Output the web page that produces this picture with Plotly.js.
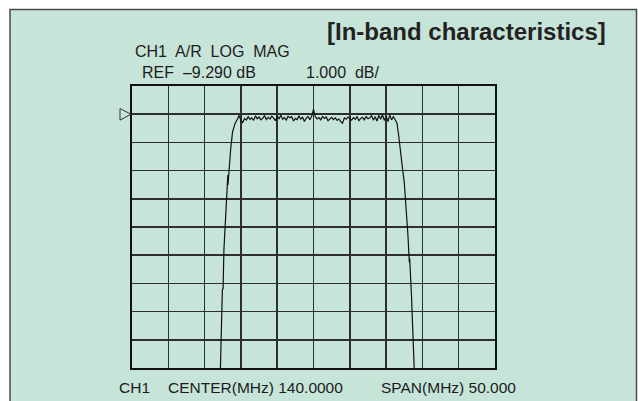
<!DOCTYPE html>
<html>
<head>
<meta charset="utf-8">
<script src="https://cdn.plot.ly/plotly-3.0.1.min.js"></script>
<style>
html,body{margin:0;padding:0;background:#fff;}
#chart{width:638px;height:401px;}
</style>
</head>
<body>
<div id="chart"></div>
<script>
// Frequency (MHz) of trace points
var freqMHz = [
  126.90, 127.15, 127.45, 127.55, 127.66, 127.98, 128.20, 128.22, 128.30, 128.50,
  128.60, 128.85, 129.00, 129.22, 129.50, 129.75,
  130.00, 130.25, 130.50, 130.75, 131.00, 131.25, 131.50, 131.75, 132.00, 132.25,
  132.50, 132.75, 133.00, 133.25, 133.50, 133.75, 134.00, 134.25, 134.50, 134.75,
  135.00, 135.25, 135.50, 135.75, 136.00, 136.25, 136.50, 136.75, 137.00, 137.25,
  137.50, 137.75, 138.00, 138.25, 138.50, 138.75, 139.00, 139.25, 139.50, 139.75,
  140.00, 140.25, 140.50, 140.75, 141.00, 141.25, 141.50, 141.75, 142.00, 142.25,
  142.50, 142.75, 143.00, 143.25, 143.50, 143.75, 144.00, 144.25, 144.50, 144.75,
  145.00, 145.25, 145.50, 145.75, 146.00, 146.25, 146.50, 146.75, 147.00, 147.25,
  147.50, 147.75, 148.00, 148.25, 148.50, 148.75, 149.00, 149.25, 149.50, 149.75,
  150.00, 150.25, 150.50, 150.75, 151.00, 151.25,
  151.50, 151.75, 152.00, 152.25, 152.50, 152.75, 153.00, 153.20, 153.25, 153.50,
  153.75, 153.80, 153.90, 154.00
];
// Magnitude (dB) of trace points
var magDB = [
  -19.00, -18.60, -15.50, -15.48, -14.10, -12.30, -11.45, -11.80, -11.50, -10.80,
  -10.50, -9.92, -9.80, -9.60, -9.48, -9.33,
  -9.52, -9.58, -9.44, -9.50, -9.38, -9.47, -9.42, -9.51, -9.35, -9.45,
  -9.39, -9.49, -9.44, -9.34, -9.48, -9.40, -9.46, -9.36, -9.43, -9.52,
  -9.37, -9.45, -9.33, -9.47, -9.41, -9.50, -9.36, -9.42, -9.38, -9.53,
  -9.44, -9.48, -9.35, -9.46, -9.40, -9.55, -9.43, -9.37, -9.49, -9.36,
  -9.12, -9.38, -9.46, -9.41, -9.49, -9.37, -9.44, -9.39, -9.52, -9.45,
  -9.40, -9.48, -9.42, -9.51, -9.46, -9.55, -9.61, -9.42, -9.47, -9.39,
  -9.44, -9.50, -9.41, -9.47, -9.38, -9.52, -9.44, -9.40, -9.49, -9.37,
  -9.45, -9.42, -9.34, -9.50, -9.38, -9.53, -9.33, -9.47, -9.31, -9.51,
  -9.36, -9.55, -9.32, -9.49, -9.38, -9.52,
  -9.60, -10.08, -10.55, -11.20, -11.70, -12.55, -13.55, -14.55, -14.40, -15.75,
  -17.30, -17.10, -18.30, -19.20
];
var centerMHz = 140.0, spanMHz = 50.0;
var refDB = -9.29, scaleDB = 1.0;

var xr = [centerMHz - spanMHz/2, centerMHz + spanMHz/2];
var yr = [refDB - 9*scaleDB, refDB + 1*scaleDB];

// pixel helpers for the frame (plot area 132..495 x, 86..368 y)
var L = 132, R = 495, T = 86, B = 368;
function px(x){ return (x - L)/(R - L); }
function py(y){ return (B - y)/(B - T); }

var txtColor = '#1c1c1c';
var fontHead = {family: 'Liberation Sans, Arial, sans-serif', size: 16, color: txtColor};
var fontFoot = {family: 'Liberation Sans, Arial, sans-serif', size: 15.5, color: txtColor};

var data = [{
  x: freqMHz, y: magDB, type: 'scatter', mode: 'lines',
  line: {color: '#111', width: 1.2}, hoverinfo: 'skip', cliponaxis: true
}];

var layout = {
  width: 638, height: 401,
  margin: {l: L, r: 638 - R, t: T, b: 401 - B, pad: 0},
  paper_bgcolor: '#ffffff',
  plot_bgcolor: 'rgba(0,0,0,0)',
  showlegend: false,
  xaxis: {range: xr, dtick: spanMHz/10, tick0: xr[0], showticklabels: false, ticks: '',
          showgrid: true, gridcolor: '#2e2e2e', gridwidth: 1.5, zeroline: false,
          showline: true, mirror: true, linecolor: '#111', linewidth: 2, fixedrange: true},
  yaxis: {range: yr, dtick: scaleDB, tick0: refDB, showticklabels: false, ticks: '',
          showgrid: true, gridcolor: '#2e2e2e', gridwidth: 1.5, zeroline: false,
          showline: true, mirror: true, linecolor: '#111', linewidth: 2, fixedrange: true},
  shapes: [
    {type: 'rect', xref: 'paper', yref: 'paper', layer: 'below',
     x0: px(10), x1: px(636.5), y0: py(9.5), y1: py(410),
     fillcolor: '#c7e4d9', line: {color: '#4a4a4a', width: 1.5}},
    {type: 'path', xref: 'paper', yref: 'y', layer: 'above',
     path: 'M ' + px(120) + ',' + (refDB + 0.2) + ' L ' + px(131) + ',' + refDB +
           ' L ' + px(120) + ',' + (refDB - 0.21) + ' Z',
     line: {color: '#333', width: 1}, fillcolor: 'rgba(0,0,0,0)'}
  ],
  annotations: [
    {xref: 'paper', yref: 'paper', x: px(608), y: py(31), xanchor: 'right', yanchor: 'middle',
     text: '<b>[In-band characteristics]</b>', showarrow: false,
     font: {family: 'Liberation Sans, Arial, sans-serif', size: 24, color: '#222'}},
    {xref: 'paper', yref: 'paper', x: px(133), y: py(52), xanchor: 'left', yanchor: 'middle',
     text: 'CH1  A/R  LOG  MAG', showarrow: false, font: fontHead},
    {xref: 'paper', yref: 'paper', x: px(140), y: py(72.5), xanchor: 'left', yanchor: 'middle',
     text: 'REF  \u20139.290 dB', showarrow: false, font: fontHead},
    {xref: 'paper', yref: 'paper', x: px(304), y: py(72.5), xanchor: 'left', yanchor: 'middle',
     text: '1.000  dB/', showarrow: false, font: fontHead},
    {xref: 'paper', yref: 'paper', x: px(117), y: py(387), xanchor: 'left', yanchor: 'middle',
     text: 'CH1', showarrow: false, font: fontFoot},
    {xref: 'paper', yref: 'paper', x: px(166), y: py(387), xanchor: 'left', yanchor: 'middle',
     text: 'CENTER(MHz) 140.0000', showarrow: false, font: fontFoot},
    {xref: 'paper', yref: 'paper', x: px(379), y: py(387), xanchor: 'left', yanchor: 'middle',
     text: 'SPAN(MHz) 50.000', showarrow: false, font: fontFoot}
  ]
};

Plotly.newPlot('chart', data, layout, {displayModeBar: false, staticPlot: true});
</script>
</body>
</html>
